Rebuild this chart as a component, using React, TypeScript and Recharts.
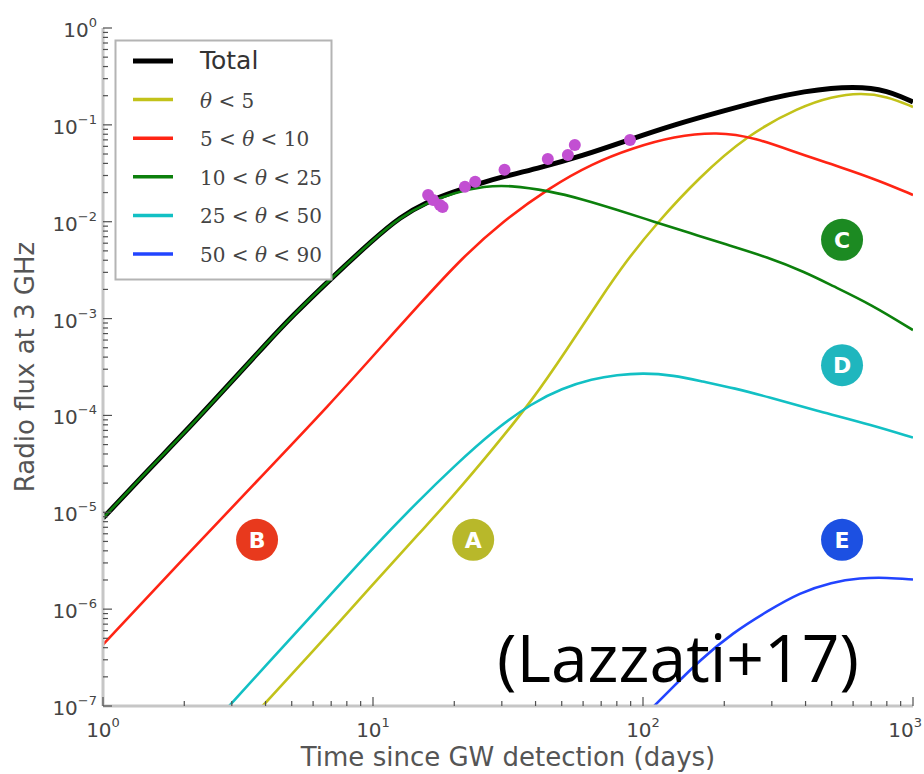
import React from "react";
import { ComposedChart, Line, Scatter, XAxis, YAxis, ReferenceDot } from "recharts";

// radio light curves: t in days, flux at 3 GHz
const totalT = [1, 1.5, 2, 3, 4, 5, 7, 10, 12.6, 15.8, 20, 25, 30, 40, 60, 90, 130, 200, 300, 400, 500, 600, 700, 800, 900, 1000];
const totalF = [8.7e-6, 2.9e-5, 6.6e-5, 2.25e-4, 5.4e-4, 1.05e-3, 2.6e-3, 6.5e-3, 1.12e-2, 1.6e-2, 2.05e-2, 2.5e-2, 2.9e-2, 3.5e-2, 4.8e-2, 7.1e-2, 0.1, 0.14, 0.19, 0.222, 0.24, 0.245, 0.24, 0.222, 0.197, 0.172];

const coreT = [3.9, 6, 10, 15, 19.3, 28, 39, 52, 69, 87, 113, 160, 243, 381, 500, 637, 800, 1000];
const coreF = [1e-7, 3.7e-7, 1.8e-6, 6.3e-6, 1.35e-5, 4.6e-5, 1.45e-4, 4.7e-4, 1.56e-3, 4.0e-3, 9.8e-3, 2.8e-2, 7.87e-2, 0.153, 0.195, 0.214, 0.198, 0.153];

const ring1T = [1, 2, 4, 7, 10, 15, 21.5, 30, 45, 65, 92, 130, 188, 260, 381, 550, 750, 1000];
const ring1F = [4.3e-7, 3.4e-6, 2.6e-5, 1.35e-4, 4.1e-4, 1.45e-3, 4.3e-3, 9.9e-3, 2.25e-2, 4.0e-2, 5.8e-2, 7.6e-2, 8.5e-2, 7.4e-2, 5.0e-2, 3.6e-2, 2.65e-2, 1.89e-2];

const ring2T = [1, 1.5, 2, 3, 4, 5, 7, 10, 12.6, 15.8, 20, 26, 32, 45, 60, 80, 110, 150, 200, 290, 400, 500, 700, 1000];
const ring2F = [8.7e-6, 2.9e-5, 6.6e-5, 2.25e-4, 5.4e-4, 1.05e-3, 2.6e-3, 6.5e-3, 1.11e-2, 1.56e-2, 2.0e-2, 2.33e-2, 2.38e-2, 2.08e-2, 1.7e-2, 1.33e-2, 1.0e-2, 7.6e-3, 5.9e-3, 4.3e-3, 3.0e-3, 2.2e-3, 1.4e-3, 7.6e-4];

const ring3T = [2.93, 4, 6, 10, 14.6, 20, 28, 39, 50, 65, 80, 100, 130, 165, 220, 288, 450, 700, 1000];
const ring3F = [1e-7, 2.6e-7, 8.9e-7, 4.3e-6, 1.28e-5, 3.0e-5, 7.0e-5, 1.35e-4, 1.9e-4, 2.38e-4, 2.62e-4, 2.75e-4, 2.6e-4, 2.25e-4, 1.9e-4, 1.56e-4, 1.1e-4, 8.0e-5, 5.9e-5];

const ring4T = [110, 130, 163, 215, 290, 381, 500, 637, 800, 1000];
const ring4F = [1e-7, 1.6e-7, 3.0e-7, 5.7e-7, 9.6e-7, 1.48e-6, 1.9e-6, 2.1e-6, 2.12e-6, 2.02e-6];

// VLA detections
const obsT = [16.0, 16.7, 17.7, 18.1, 21.9, 23.9, 30.7, 44.4, 52.7, 55.9, 89.5];
const obsF = [0.0189, 0.0168, 0.0149, 0.0142, 0.0229, 0.0258, 0.0343, 0.0445, 0.0489, 0.062, 0.0698];

// lettered badges
const badgeNames = ["A", "B", "C", "D", "E"];
const badgeT = [23.5, 3.72, 546, 546, 546];
const badgeF = [5.2e-6, 5.2e-6, 6.5e-3, 3.3e-4, 5.2e-6];
const badgeColors = ["#b8b82a", "#e8391d", "#1c8a22", "#1fb6be", "#1c50e2"];

const xMajor = [1, 10, 100, 1000];
const yMajor = [1e-7, 1e-6, 1e-5, 1e-4, 1e-3, 1e-2, 1e-1, 1];
const minorSteps = [2, 3, 4, 5, 6, 7, 8, 9];
const xTicks = [...xMajor, ...xMajor.slice(0, -1).flatMap((d) => minorSteps.map((m) => m * d))];
const yTicks = [...yMajor, ...yMajor.slice(0, -1).flatMap((d) => minorSteps.map((m) => m * d))];

const series = [
  { key: "total", name: "Total", lo: null, hi: null, t: totalT, f: totalF, color: "#000000", width: 5 },
  { key: "core", name: "θ<5", lo: null, hi: "5", t: coreT, f: coreF, color: "#c2c21a", width: 2.6 },
  { key: "r1", name: "5<θ<10", lo: "5", hi: "10", t: ring1T, f: ring1F, color: "#ff2414", width: 2.6 },
  { key: "r2", name: "10<θ<25", lo: "10", hi: "25", t: ring2T, f: ring2F, color: "#0c800c", width: 2.6 },
  { key: "r3", name: "25<θ<50", lo: "25", hi: "50", t: ring3T, f: ring3F, color: "#12c0c4", width: 2.6 },
  { key: "r4", name: "50<θ<90", lo: "50", hi: "90", t: ring4T, f: ring4F, color: "#2244ff", width: 2.6 },
];

const rows = (t: number[], f: number[]) => t.map((v, i) => ({ t: v, f: f[i] }));

const TICK = "#505050";
const FRAME = { stroke: "#c6c6c6", strokeWidth: 3 };

const expLabel = (v: number) => String(Math.round(Math.log10(v))).replace("-", "\u2212");

const BottomTick = ({ x, y, payload }: any) => {
  const major = xMajor.includes(payload.value);
  const last = payload.value === xMajor[xMajor.length - 1];
  return (
    <g>
      <line x1={x} x2={x} y1={y} y2={y - (major ? 9 : 5)} stroke={TICK} strokeWidth={1.2} />
      {major && (
        <text
          x={last ? x + 9 : x}
          y={y + 31}
          textAnchor={last ? "end" : "middle"}
          fill="#444"
          fontSize={20}
          fontFamily="DejaVu Sans"
        >
          10<tspan fontSize={13} dy={-10}>{expLabel(payload.value)}</tspan>
        </text>
      )}
    </g>
  );
};

const TopTick = ({ x, y, payload }: any) => {
  const major = xMajor.includes(payload.value);
  return <line x1={x} x2={x} y1={y} y2={y + (major ? 9 : 5)} stroke={TICK} strokeWidth={1.2} />;
};

const LeftTick = ({ x, y, payload }: any) => {
  const major = yMajor.includes(payload.value);
  return (
    <g>
      <line x1={x} x2={x + (major ? 9 : 5)} y1={y} y2={y} stroke={TICK} strokeWidth={1.2} />
      {major && (
        <text x={x - 6} y={y + 9} textAnchor="end" fill="#444" fontSize={20} fontFamily="DejaVu Sans">
          10<tspan fontSize={13} dy={-10}>{expLabel(payload.value)}</tspan>
        </text>
      )}
    </g>
  );
};

const RightTick = ({ x, y, payload }: any) => {
  const major = yMajor.includes(payload.value);
  return <line x1={x} x2={x - (major ? 9 : 5)} y1={y} y2={y} stroke={TICK} strokeWidth={1.2} />;
};

const LegendLabel = ({ s, x, y }: any) => {
  if (!s.hi) {
    return (
      <text x={x} y={y} fill="#333" fontSize={25} fontFamily="DejaVu Sans">
        {s.name}
      </text>
    );
  }
  return (
    <text x={x} y={y} fill="#444" fontSize={20} fontFamily="DejaVu Serif">
      {s.lo ? `${s.lo} < ` : ""}
      <tspan fontStyle="italic">θ</tspan>
      {` < ${s.hi}`}
    </text>
  );
};

const App = () => {
  return (
    <div style={{ position: "absolute", left: 0, top: 0, width: 924, height: 774, background: "#fff" }}>
      <ComposedChart width={924} height={774} margin={{ top: 28, right: 11, bottom: 0, left: 0 }}>
        <XAxis
          dataKey="t"
          type="number"
          scale="log"
          domain={[1, 1000]}
          allowDataOverflow
          ticks={xTicks}
          interval={0}
          height={68}
          tickSize={0}
          tickMargin={0}
          tickLine={false}
          axisLine={FRAME}
          tick={<BottomTick />}
        />
        <XAxis
          xAxisId="top"
          orientation="top"
          dataKey="t"
          type="number"
          scale="log"
          domain={[1, 1000]}
          allowDataOverflow
          ticks={xTicks}
          interval={0}
          height={0}
          tickSize={0}
          tickMargin={0}
          tickLine={false}
          axisLine={FRAME}
          tick={<TopTick />}
        />
        <YAxis
          type="number"
          scale="log"
          domain={[1e-7, 1]}
          allowDataOverflow
          ticks={yTicks}
          interval={0}
          width={103}
          tickSize={0}
          tickMargin={0}
          tickLine={false}
          axisLine={FRAME}
          tick={<LeftTick />}
        />
        <YAxis
          yAxisId="right"
          orientation="right"
          type="number"
          scale="log"
          domain={[1e-7, 1]}
          allowDataOverflow
          ticks={yTicks}
          interval={0}
          width={0}
          tickSize={0}
          tickMargin={0}
          tickLine={false}
          axisLine={FRAME}
          tick={<RightTick />}
        />
        {series.map((s) => (
          <Line
            key={s.key}
            name={s.name}
            data={rows(s.t, s.f)}
            dataKey="f"
            type="basis"
            stroke={s.color}
            strokeWidth={s.width}
            dot={false}
            activeDot={false}
            isAnimationActive={false}
          />
        ))}
        <Scatter
          name="data"
          data={rows(obsT, obsF)}
          dataKey="f"
          fill="#c24fd2"
          isAnimationActive={false}
          shape={(p: any) => <circle cx={p.cx} cy={p.cy} r={6} fill="#c24fd2" />}
        />
        {badgeNames.map((b, i) => (
          <ReferenceDot
            key={b}
            x={badgeT[i]}
            y={badgeF[i]}
            r={21}
            fill={badgeColors[i]}
            stroke="none"
            ifOverflow="visible"
            label={{ value: b, position: "center", fill: "#fff", fontSize: 22, fontWeight: 700, fontFamily: "DejaVu Sans" }}
          />
        ))}
      </ComposedChart>
      <svg width={924} height={774} style={{ position: "absolute", left: 0, top: 0, pointerEvents: "none" }}>
        <rect x={115.5} y={40.5} width={216} height={239} fill="#fff" stroke="#b4b4b4" strokeWidth={2} />
        {series.map((s, i) => {
          const cy = 61 + i * 38.6;
          return (
            <g key={s.key}>
              <line x1={133} x2={173} y1={cy} y2={cy} stroke={s.color} strokeWidth={s.key === "total" ? 5 : 3.5} />
              <LegendLabel s={s} x={200} y={cy + 8} />
            </g>
          );
        })}
        <text x={508} y={766} textAnchor="middle" fill="#555" fontSize={26} fontFamily="DejaVu Sans">
          Time since GW detection (days)
        </text>
        <text
          x={34}
          y={367}
          transform="rotate(-90 34 367)"
          textAnchor="middle"
          fill="#555"
          fontSize={26}
          fontFamily="DejaVu Sans"
        >
          Radio flux at 3 GHz
        </text>
        <text x={497} y={682} fill="#000" fontSize={66} fontFamily="Open Sans">
          (Lazzati+17)
        </text>
      </svg>
    </div>
  );
};

export default App;
